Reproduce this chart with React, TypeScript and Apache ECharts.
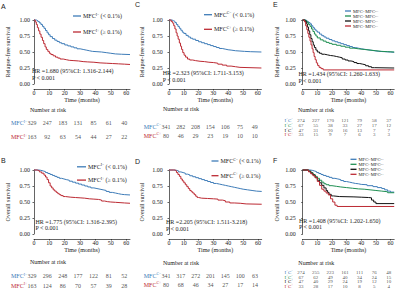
import React, { useEffect, useRef } from 'react';
import * as echarts from 'echarts';

const FONT = 'Liberation Serif';
const INK = '#222222';
const BLUE = '#3E7CB8';
const RED = '#BC2A33';
const GREEN = '#1F8F52';
const BLACK = '#111111';

// ---- axis ticks ----
const timeTicks = [0, 10, 20, 30, 40, 50, 60];

// ---- Kaplan-Meier curves [month, survival] ----
const rfsIneg = [[0,1],[1.5,0.99],[2.5,0.975],[3.5,0.955],[4.5,0.93],[5.5,0.9],[6.5,0.87],[7.5,0.835],[8.5,0.8],[9.5,0.77],[10.5,0.74],[12,0.71],[13.5,0.685],[15,0.665],[16.5,0.645],[18,0.63],[20,0.61],[22,0.595],[24,0.58],[26,0.565],[28,0.55],[30,0.54],[32,0.53],[34,0.52],[36,0.51],[38,0.505],[41,0.5],[44,0.49],[47,0.48],[50,0.47],[53,0.465],[57,0.46],[62.5,0.46]];
const rfsIpos = [[0,1],[0.8,0.97],[1.5,0.93],[2.2,0.88],[3,0.83],[3.8,0.78],[4.6,0.73],[5.5,0.68],[6.3,0.63],[7.2,0.58],[8,0.54],[9,0.51],[10,0.48],[11,0.46],[12.5,0.44],[14,0.42],[15.5,0.405],[17,0.39],[19,0.38],[21,0.37],[23,0.365],[26,0.36],[29,0.35],[32,0.345],[35,0.34],[39,0.33],[43,0.325],[47,0.32],[51,0.315],[55,0.31],[59,0.305],[62.5,0.305]];

const osIneg = [[0,1],[3,0.995],[4.5,0.985],[6,0.975],[7.5,0.96],[9,0.945],[10.5,0.93],[12,0.915],[13.5,0.9],[15,0.885],[16.5,0.87],[18,0.86],[19.5,0.85],[21,0.84],[23,0.825],[25,0.81],[27,0.795],[29,0.78],[31,0.765],[33,0.75],[35,0.735],[37,0.72],[39,0.71],[41,0.7],[43,0.69],[45,0.68],[47,0.665],[49,0.65],[51,0.64],[53,0.63],[55,0.62],[57,0.615],[59,0.61],[62.5,0.61]];
const osIpos = [[0,1],[2,0.99],[3.5,0.97],[5,0.95],[6.5,0.92],[7.5,0.89],[8.5,0.85],[9.5,0.8],[10.5,0.75],[11.5,0.72],[12.5,0.69],[13.5,0.67],[14.5,0.65],[15.5,0.63],[16.5,0.615],[17.5,0.6],[19,0.585],[20.5,0.575],[24,0.57],[27,0.565],[30,0.56],[33,0.55],[36,0.545],[39,0.54],[42,0.53],[44,0.515],[46,0.505],[48,0.5],[50,0.495],[53,0.49],[56,0.485],[59,0.48],[62.5,0.48]];

const rfsCneg = [[0,1],[2,0.99],[3,0.98],[4,0.96],[5,0.93],[6,0.9],[7,0.87],[8,0.84],[9,0.81],[10,0.79],[11.5,0.76],[13,0.735],[14.5,0.715],[16,0.7],[18,0.68],[20,0.66],[22,0.645],[24,0.63],[26,0.615],[28,0.6],[30,0.585],[32,0.57],[34,0.555],[36,0.545],[38,0.535],[40,0.53],[42,0.52],[45,0.515],[48,0.51],[51,0.505],[55,0.5],[62.5,0.5]];
const rfsCpos = [[0,1],[1.5,0.975],[2.5,0.95],[3.2,0.91],[4,0.86],[4.8,0.8],[5.5,0.75],[6.2,0.7],[7,0.64],[7.8,0.59],[8.5,0.54],[9.3,0.49],[10.2,0.45],[11.2,0.42],[12.5,0.39],[14,0.375],[16,0.365],[18,0.355],[21,0.35],[24,0.34],[27,0.335],[30,0.325],[33,0.31],[36,0.295],[39,0.28],[42,0.27],[45,0.26],[48,0.25],[62.5,0.25]];

const osCneg = [[0,1],[3,0.995],[5,0.985],[6.5,0.97],[8,0.96],[9.5,0.95],[11,0.935],[12.5,0.925],[14,0.91],[16,0.895],[18,0.88],[20,0.865],[22,0.85],[24,0.835],[26,0.82],[28,0.805],[30,0.79],[32,0.78],[34,0.77],[36,0.76],[38,0.75],[40,0.74],[42,0.73],[44,0.72],[46,0.71],[48,0.7],[50,0.69],[53,0.68],[56,0.67],[59,0.665],[62.5,0.665]];
const osCpos = [[0,1],[4,0.99],[5,0.96],[6,0.93],[7,0.9],[8,0.86],[9,0.83],[10,0.8],[11,0.77],[12,0.74],[13,0.71],[14,0.68],[15,0.66],[16,0.64],[17,0.615],[18,0.59],[19,0.57],[20,0.56],[22,0.555],[26,0.55],[30,0.545],[33,0.53],[36,0.52],[38,0.5],[41,0.485],[44,0.48],[48,0.47],[52,0.465],[62.5,0.465]];

const rfsNN = [[0,1],[2,0.99],[3,0.975],[4,0.96],[5,0.94],[6,0.91],[7,0.88],[8,0.855],[9,0.83],[10,0.81],[11.5,0.78],[13,0.755],[14.5,0.735],[16,0.715],[18,0.695],[20,0.675],[22,0.66],[24,0.645],[26,0.63],[28,0.615],[30,0.6],[32,0.585],[34,0.57],[36,0.56],[38,0.55],[40,0.54],[43,0.53],[46,0.52],[49,0.51],[52,0.505],[56,0.5],[60,0.495],[62.5,0.495]];
const rfsPN = [[0,1],[2,0.985],[3,0.96],[4,0.93],[5,0.9],[6,0.86],[7,0.82],[8,0.78],[9,0.75],[10,0.72],[12,0.69],[14,0.67],[16,0.65],[18,0.635],[20,0.62],[23,0.605],[26,0.59],[29,0.575],[32,0.56],[35,0.55],[38,0.54],[42,0.53],[46,0.52],[50,0.51],[54,0.505],[58,0.5],[62.5,0.49]];
const rfsNP = [[0,1],[1.5,0.98],[2.5,0.94],[3.2,0.89],[4,0.83],[4.8,0.77],[5.6,0.71],[6.4,0.66],[7.2,0.61],[8,0.57],[9,0.53],[10,0.5],[11.5,0.48],[13,0.465],[15,0.455],[17,0.445],[19,0.44],[21,0.43],[23,0.42],[25,0.41],[27,0.39],[29,0.375],[31,0.36],[33,0.35],[35,0.335],[37,0.32],[39,0.31],[41,0.3],[43,0.285],[45,0.27],[47,0.255],[49,0.25],[62.5,0.25]];
const rfsPP = [[0,1],[1.2,0.97],[2,0.91],[2.8,0.85],[3.5,0.79],[4.2,0.73],[5,0.67],[5.7,0.61],[6.4,0.55],[7.1,0.49],[7.8,0.43],[8.5,0.38],[9.3,0.33],[10.2,0.29],[11.2,0.26],[12.5,0.24],[14,0.22],[62.5,0.22]];

const osNN = [[0,1],[5,0.995],[6.5,0.985],[8,0.975],[9.5,0.96],[11,0.945],[12.5,0.93],[14,0.915],[16,0.9],[18,0.885],[20,0.87],[22,0.86],[24,0.85],[26,0.835],[28,0.82],[30,0.81],[32,0.8],[34,0.79],[36,0.785],[38,0.775],[40,0.77],[44,0.755],[48,0.74],[51,0.725],[54,0.71],[56,0.69],[58,0.67],[60,0.655],[62.5,0.655]];
const osPN = [[0,1],[4,0.985],[5.5,0.96],[7,0.93],[8.5,0.9],[10,0.87],[11.5,0.84],[13,0.81],[14.5,0.785],[16,0.77],[18,0.755],[20,0.745],[23,0.735],[26,0.725],[30,0.715],[34,0.705],[38,0.7],[42,0.69],[46,0.68],[50,0.67],[54,0.66],[58,0.645],[62.5,0.64]];
const osNP = [[0,1],[4,0.98],[5.5,0.95],[7,0.92],[8.5,0.88],[10,0.84],[11.5,0.8],[13,0.76],[14.5,0.72],[16,0.68],[17,0.65],[18,0.62],[19.5,0.595],[21,0.585],[25,0.58],[35,0.575],[40,0.57],[45,0.565],[47,0.53],[48.5,0.5],[50,0.475],[62.5,0.475]];
const osPP = [[0,1],[4,0.97],[5.5,0.94],[7,0.91],[8.5,0.88],[10,0.82],[11.5,0.76],[13,0.7],[14.5,0.67],[16,0.64],[17.5,0.61],[19,0.55],[20.5,0.5],[22,0.45],[23.5,0.43],[62.5,0.43]];

// ---- number at risk (at 0,10,...,60 months) ----
const riskA = [[329,247,183,131,85,61,40],[163,92,63,54,44,27,22]];
const riskB = [[329,296,248,177,122,81,52],[163,124,86,70,57,39,28]];
const riskC = [[341,282,208,154,106,75,49],[80,46,29,23,19,10,10]];
const riskD = [[341,317,272,201,145,100,63],[80,68,46,34,27,17,14]];
const riskE = [[274,227,170,121,79,58,37],[67,55,38,33,27,17,12],[47,31,20,16,13,7,7],[33,15,9,7,6,3,3]];
const riskF = [[274,255,223,161,111,76,48],[67,62,49,40,34,24,15],[47,40,29,24,19,12,10],[33,28,17,10,8,5,4]];

// ---- group names ----
const namesI = ['MFC^{I−} (< 0.1%)', 'MFC^{I+} (≥ 0.1%)'];
const namesC = ['MFC^{C−} (< 0.1%)', 'MFC^{C+} (≥ 0.1%)'];
const namesIC = ['MFC^{I−}MFC^{C−}', 'MFC^{I+}MFC^{C−}', 'MFC^{I−}MFC^{C+}', 'MFC^{I+}MFC^{C+}'];
const riskLabelsI = ['MFC^{I−}', 'MFC^{I+}'];
const riskLabelsC = ['MFC^{C−}', 'MFC^{C+}'];
const riskLabelsIC = ['I^{−}C^{−}', 'I^{+}C^{−}', 'I^{−}C^{+}', 'I^{+}C^{+}'];
const hrTexts = [
  'HR =1.680 (95%CI: 1.316-2.144)',
  'HR =1.775 (95%CI: 1.316-2.395)',
  'HR =2.323 (95%CI: 1.711-3.153)',
  'HR =2.205 (95%CI: 1.511-3.218)',
  'HR =1.434 (95%CI: 1.260-1.633)',
  'HR =1.408 (95%CI: 1.202-1.650)',
];
const pText = 'P < 0.001';

const two = [BLUE, RED];
const four = [BLUE, GREEN, BLACK, RED];

const PANELS = [
  { letter: 'A', lp: [1, 6], yTitle: 'Relapse-free survival', left: 34, top: 20, width: 96, yOff: 2.5, yGap: 21,
    curves: [rfsIneg, rfsIpos], names: namesI, colors: two,
    lg: { left: 73, top: 12.5, fs: 6, lh: 7, gap: 9, iw: 8 }, hr: [32, 71], p: [32, 77.5], nar: [30, 110],
    risk: riskA, rlabels: riskLabelsI, rTop: 116.3, rH: 28, rLeft: 32, rMargin: 5, rfs: 6 },
  { letter: 'B', lp: [1, 160.5], yTitle: 'Overall survival', left: 34, top: 170, width: 96, yOff: 2.5, yGap: 21,
    curves: [osIneg, osIpos], names: namesI, colors: two,
    lg: { left: 77, top: 163.3, fs: 6, lh: 7, gap: 6.3, iw: 9 }, hr: [35.5, 221.5], p: [35.5, 228], nar: [30, 262.3],
    risk: riskB, rlabels: riskLabelsI, rTop: 271.2, rH: 19.4, rLeft: 32, rMargin: 5, rfs: 6 },
  { letter: 'C', lp: [135, 4.5], yTitle: 'Relapse-free survival', left: 169, top: 20, width: 92.4, yOff: 4.7, yGap: 19,
    curves: [rfsCneg, rfsCpos], names: namesC, colors: two,
    lg: { left: 204, top: 11.2, fs: 6, lh: 7, gap: 7.6, iw: 8 }, hr: [162.7, 72.7], p: [162.7, 80], nar: [163, 108.7],
    risk: riskC, rlabels: riskLabelsC, rTop: 122, rH: 18.6, rLeft: 166, rMargin: 5, rfs: 6 },
  { letter: 'D', lp: [135, 161], yTitle: 'Overall survival', left: 169, top: 170, width: 92.7, yOff: 4.7, yGap: 19,
    curves: [osCneg, osCpos], names: namesC, colors: two,
    lg: { left: 211.5, top: 157.5, fs: 6, lh: 7, gap: 7.7, iw: 7 }, hr: [166, 222.3], p: [166, 229], nar: [163, 263.3],
    risk: riskD, rlabels: riskLabelsC, rTop: 271, rH: 18.6, rLeft: 166, rMargin: 5, rfs: 6 },
  { letter: 'E', lp: [273, 4.5], yTitle: 'Relapse-free survival', left: 302.7, top: 20, width: 91.5, yOff: 5.4, yGap: 17,
    curves: [rfsNN, rfsPN, rfsNP, rfsPP], names: namesIC, colors: four,
    lg: { left: 345, top: 8.5, fs: 4.6, lh: 4.4, gap: 0, iw: 6 }, hr: [298.5, 74], p: [298.5, 80.5], nar: [298, 110],
    risk: riskE, rlabels: riskLabelsIC, rTop: 118.3, rH: 19, rLeft: 301, rMargin: 8, rfs: 5 },
  { letter: 'F', lp: [273, 160.5], yTitle: 'Overall survival', left: 302.7, top: 170, width: 91.5, yOff: 5.4, yGap: 17,
    curves: [osNN, osPN, osNP, osPP], names: namesIC, colors: four,
    lg: { left: 350.5, top: 156.8, fs: 4.6, lh: 4.4, gap: 0, iw: 6 }, hr: [299, 220.5], p: [299, 227], nar: [298.3, 263.3],
    risk: riskF, rlabels: riskLabelsIC, rTop: 270, rH: 18.7, rLeft: 301, rMargin: 8, rfs: 5 },
];

function richify(text: string, suffix: string) {
  const parts: string[] = [];
  const re = /\^\{([^}]*)\}/g;
  let last = 0;
  let m: RegExpExecArray | null;
  while ((m = re.exec(text))) {
    if (m.index > last) parts.push(`{n${suffix}|${text.slice(last, m.index)}}`);
    parts.push(`{s${suffix}|${m[1]}}`);
    last = re.lastIndex;
  }
  if (last < text.length) parts.push(`{n${suffix}|${text.slice(last)}}`);
  return parts.join('');
}

function buildOption() {
  const grid: any[] = [];
  const xAxis: any[] = [];
  const yAxis: any[] = [];
  const series: any[] = [];
  const legend: any[] = [];
  const graphic: any[] = [];
  const H = 64;

  PANELS.forEach((p, k) => {
    const gPlot = grid.length;
    grid.push({ left: p.left, top: p.top, width: p.width, height: H });
    xAxis.push({
      gridIndex: gPlot, type: 'value', min: 0, max: 62.5, interval: 10, offset: 5,
      axisLine: { show: true, onZero: false, lineStyle: { color: INK, width: 0.7 } },
      axisTick: { show: true, length: 1.5, customValues: timeTicks, lineStyle: { color: INK, width: 0.7 } },
      axisLabel: { customValues: timeTicks, fontSize: 6, fontFamily: FONT, color: INK, margin: 1.2 },
      splitLine: { show: false },
      name: 'Time (months)', nameLocation: 'middle', nameGap: 7.5,
      nameTextStyle: { fontSize: 6, fontFamily: FONT, color: INK },
    });
    yAxis.push({
      gridIndex: gPlot, type: 'value', min: 0, max: 1, interval: 0.25, offset: p.yOff,
      axisLine: { show: true, lineStyle: { color: INK, width: 0.7 } },
      axisTick: { show: true, length: 1.5, lineStyle: { color: INK, width: 0.7 } },
      axisLabel: { fontSize: 6, fontFamily: FONT, color: INK, margin: 1.5, formatter: (v: number) => v.toFixed(2) },
      splitLine: { show: false },
      name: p.yTitle, nameLocation: 'middle', nameGap: p.yGap, nameRotate: 90,
      nameTextStyle: { fontSize: 6, fontFamily: FONT, color: INK },
    });
    p.curves.forEach((c, i) => {
      series.push({
        type: 'line', name: p.names[i], xAxisIndex: gPlot, yAxisIndex: gPlot, data: c,
        step: 'end', symbol: 'none', clip: false, silent: true,
        lineStyle: { width: 1, color: p.colors[i] }, itemStyle: { color: p.colors[i] },
      });
    });
    const lg = p.lg;
    legend.push({
      left: lg.left, top: lg.top, orient: 'vertical', padding: 0, itemGap: lg.gap,
      itemWidth: lg.iw, itemHeight: 1.3, icon: 'rect', selectedMode: false,
      data: p.names,
      formatter: (n: string) => richify(n, ''),
      textStyle: {
        fontSize: lg.fs, fontFamily: FONT, color: INK, lineHeight: lg.lh, padding: [0, 0, 0, -3],
        rich: {
          n: { fontSize: lg.fs, fontFamily: FONT, color: INK, lineHeight: lg.lh },
          s: { fontSize: lg.fs * 0.62, fontFamily: FONT, color: INK, verticalAlign: 'top' },
        },
      },
    });

    // risk table grid
    const gRisk = grid.length;
    grid.push({ left: p.rLeft, top: p.rTop, width: p.width, height: p.rH });
    const rich: any = {};
    p.colors.forEach((col, i) => {
      rich['n' + i] = { fontSize: p.rfs, fontFamily: FONT, color: col, lineHeight: p.rfs + 1 };
      rich['s' + i] = { fontSize: p.rfs * 0.62, fontFamily: FONT, color: col, verticalAlign: 'top' };
    });
    xAxis.push({ gridIndex: gRisk, type: 'value', min: 0, max: 62.5, show: false });
    yAxis.push({
      gridIndex: gRisk, type: 'category', inverse: true, data: p.rlabels,
      axisLine: { show: false }, axisTick: { show: false }, splitLine: { show: false },
      axisLabel: { interval: 0, margin: p.rMargin, formatter: (v: string, idx: number) => richify(v, String(idx)), rich },
    });
    p.risk.forEach((row, r) => {
      series.push({
        type: 'scatter', name: `risk-${p.letter}-${r}`, xAxisIndex: gRisk, yAxisIndex: gRisk,
        symbolSize: 1, itemStyle: { color: 'rgba(0,0,0,0)' }, silent: true,
        data: row.map((n, i) => [timeTicks[i], r, n]),
        label: { show: true, position: 'inside', formatter: (q: any) => String(q.data[2]), fontSize: p.rfs, fontFamily: FONT, color: INK },
      });
    });

    // texts
    const txt = (text: string, x: number, y: number, fs: number, font = FONT) => ({
      type: 'text', x, y, silent: true,
      style: { text, fontSize: fs, fontFamily: font, fill: INK, verticalAlign: 'middle', align: 'left' },
    });
    graphic.push(txt(p.letter, p.lp[0], p.lp[1], 7, 'Liberation Sans'));
    graphic.push(txt(hrTexts[k], p.hr[0], p.hr[1], 6));
    graphic.push(txt(pText, p.p[0], p.p[1], 6));
    graphic.push(txt('Number at risk', p.nar[0], p.nar[1], 6));
  });

  return { animation: false, backgroundColor: '#ffffff', grid, xAxis, yAxis, series, legend, graphic };
}

export default function App() {
  const ref = useRef<HTMLDivElement>(null);
  useEffect(() => {
    if (!ref.current) return;
    const chart = echarts.init(ref.current, undefined, { renderer: 'svg' });
    chart.setOption(buildOption() as any);
    return () => chart.dispose();
  }, []);
  return <div ref={ref} style={{ position: 'absolute', left: 0, top: 0, width: 400, height: 294, background: '#fff' }} />;
}
